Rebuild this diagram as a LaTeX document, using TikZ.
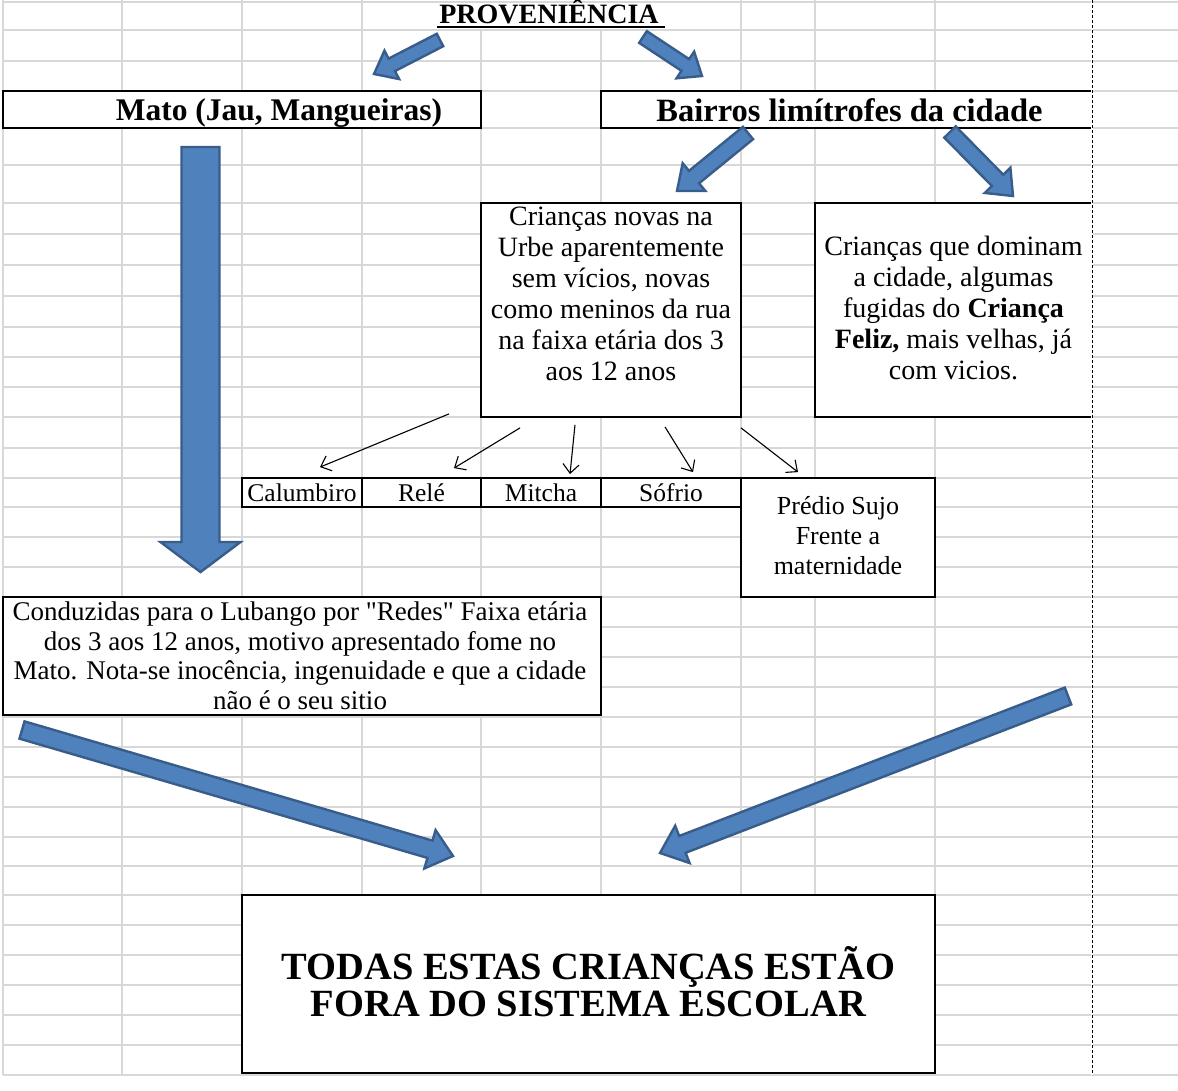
\documentclass[tikz,border=0pt]{standalone}
\usepackage{fontspec}
\setmainfont{Liberation Serif}[Ligatures=TeXOff]
\usetikzlibrary{arrows.meta,calc,positioning}

\definecolor{cellgray}{RGB}{216,216,216}
\definecolor{arrowfill}{RGB}{79,129,189}
\definecolor{arrowline}{RGB}{56,93,138}

\newcommand{\fsz}[2]{\fontsize{#1}{#2}\selectfont}
\newcommand{\firstln}{\rule{0pt}{1em}}
% block arrow: tail, tip, half shaft, half head, head length
\newcommand{\bluearrow}[5]{%
  \coordinate (ba-h) at ($(#2)!#5!(#1)$);
  \filldraw[fatarrow] ($(#1)!#3!90:(ba-h)$) -- ($(ba-h)!#3!-90:(#1)$)
    -- ($(ba-h)!#4!-90:(#1)$) -- (#2) -- ($(ba-h)!#4!90:(#1)$)
    -- ($(ba-h)!#3!90:(#1)$) -- ($(#1)!#3!-90:(ba-h)$) -- cycle;
}

\begin{document}
\begin{tikzpicture}[x=1pt,y=-1pt]
  \tikzstyle{every node}+=[inner sep=0pt]
  \tikzstyle{gridline}=[cellgray, line width=1.4pt]
  \tikzstyle{cellbox}=[draw, fill=white, line width=1.8pt]
  \tikzstyle{celltext}=[anchor=north, align=center]
  \tikzstyle{fatarrow}=[fill=arrowfill, draw=arrowline, line width=2.4pt]
  \tikzstyle{pointer}=[line width=1.1pt, -{Straight Barb[length=9pt,width=16pt]}]
  \tikzstyle{pagebreak}=[dash pattern=on 3pt off 2pt, line width=1pt]

  \useasboundingbox (0,0) rectangle (1178,1090);
  \fill[white] (0,0) rectangle (1178,1090);

  % sheet grid
  \foreach \y in {2,30,61,91,128,165,203,234,265,296,327,357,387,417,448,478,507,537,567,
                  597,627,657,687,717,747,777,807,837,866,895,925,955,985,1015,1045,1075}
    \draw[gridline] (3,\y) -- (1178,\y);
  \foreach \x in {3,122,242,362,741,815,935}
    \draw[gridline] (\x,0) -- (\x,1075);
  \foreach \x in {481,601}
    \draw[gridline] (\x,30) -- (\x,1075);

  % title
  \fill[white] (363,3) rectangle (740,28);
  \node[font=\bfseries\fsz{28}{30}, anchor=base] (title) at (549,23) {PROVENIÊNCIA};
  \draw[line width=2.6pt] ([xshift=-2pt,yshift=-4pt]title.base west) -- ([xshift=6pt,yshift=-4pt]title.base east);

  % boxes
  \node[cellbox, minimum width=478pt, minimum height=37pt] (mato) at (242,109.5) {};
  \node[font=\bfseries\fsz{31.5}{36}, anchor=base] (matolbl) at (279,120) {Mato (Jau, Mangueiras)};
  \node[cellbox, minimum width=491pt, minimum height=37pt] (bairros) at (846.5,109.5) {};
  \node[font=\bfseries\fsz{32.5}{36}, anchor=base] (bairroslbl) at (849.5,121) {Bairros limítrofes da cidade};

  \node[cellbox, minimum width=260pt, minimum height=214pt] (novas) at (611,310) {};
  \node[celltext, font=\fsz{28}{31}] (novaslbl) at (611,197) {\firstln Crianças novas na\\Urbe aparentemente\\sem vícios, novas\\como meninos da rua\\na faixa etária dos 3\\aos 12 anos};
  \node[cellbox, minimum width=277pt, minimum height=214pt] (dominam) at (953.5,310) {};
  \node[celltext, font=\fsz{28}{31}] (dominamlbl) at (953.5,227) {\firstln Crianças que dominam\\a cidade, algumas\\fugidas do \textbf{Criança}\\\textbf{Feliz,} mais velhas, já\\com vicios.};

  \node[cellbox, minimum width=120pt, minimum height=29pt, font=\fsz{25.5}{28}] (calumbiro) at (302,492.5) {Calumbiro};
  \node[cellbox, minimum width=119pt, minimum height=29pt, font=\fsz{25.5}{28}] (rele) at (421.5,492.5) {Relé};
  \node[cellbox, minimum width=120pt, minimum height=29pt, font=\fsz{25.5}{28}] (mitcha) at (541,492.5) {Mitcha};
  \node[cellbox, minimum width=140pt, minimum height=29pt, font=\fsz{25.5}{28}] (sofrio) at (671,492.5) {Sófrio};
  \node[cellbox, minimum width=194pt, minimum height=119pt] (predio) at (838,537.5) {};
  \node[celltext, font=\fsz{26}{30}] (prediolbl) at (838,488) {\firstln Prédio Sujo\\Frente a\\maternidade};

  \node[cellbox, minimum width=598pt, minimum height=118pt] (conduz) at (302,656) {};
  \node[celltext, font=\fsz{27}{29.5}] (conduzlbl) at (300,593.5) {\firstln Conduzidas para o Lubango por "Redes" Faixa etária\\dos 3 aos 12 anos, motivo apresentado fome no\\Mato. Nota-se inocência, ingenuidade e que a cidade\\não é o seu sitio};

  \node[cellbox, minimum width=693pt, minimum height=178pt] (todas) at (588.5,984) {};
  \node[celltext, font=\bfseries\fsz{38.5}{37}] (todaslbl) at (588.5,941) {\firstln TODAS ESTAS CRIANÇAS ESTÃO\\FORA DO SISTEMA ESCOLAR};

  % thin arrows to the places
  \draw[pointer] ([xshift=-162pt,yshift=4pt]novas.south) -- ([xshift=18pt,yshift=10pt]calumbiro.north);
  \draw[pointer] ([xshift=-91pt,yshift=-10pt]novas.south) -- ([xshift=32.5pt,yshift=9pt]rele.north);
  \draw[pointer] ([xshift=-36pt,yshift=-7pt]novas.south) -- ([xshift=29pt,yshift=3pt]mitcha.north);
  \draw[pointer] ([xshift=54pt,yshift=-9pt]novas.south) -- ([xshift=22pt,yshift=5pt]sofrio.north);
  \draw[pointer] ([xshift=130pt,yshift=-10pt]novas.south) -- ([xshift=-40pt,yshift=5pt]predio.north);

  % block arrows
  \coordinate (provL-tail) at (440,40);
  \coordinate (provL-tip) at (374,74);
  \bluearrow{provL-tail}{provL-tip}{7pt}{16pt}{20pt}
  \coordinate (provR-tail) at (643,37);
  \coordinate (provR-tip) at (702,76);
  \bluearrow{provR-tail}{provR-tip}{7pt}{16pt}{20pt}
  \coordinate (matoD-tail) at (200.5,147);
  \coordinate (matoD-tip) at (200.5,572);
  \bluearrow{matoD-tail}{matoD-tip}{19pt}{40pt}{30pt}
  \coordinate (bairrosL-tail) at (748,133);
  \coordinate (bairrosL-tip) at (677,191);
  \bluearrow{bairrosL-tail}{bairrosL-tip}{8pt}{18pt}{22pt}
  \coordinate (bairrosR-tail) at (950,132);
  \coordinate (bairrosR-tip) at (1013,196);
  \bluearrow{bairrosR-tail}{bairrosR-tip}{8pt}{18pt}{22pt}
  \coordinate (conduz-tail) at (22,730);
  \coordinate (conduz-tip) at (453,856);
  \bluearrow{conduz-tail}{conduz-tip}{9pt}{20pt}{24pt}
  \coordinate (dominam-tail) at (1068,696);
  \coordinate (dominam-tip) at (660,853);
  \bluearrow{dominam-tail}{dominam-tip}{9pt}{20pt}{24pt}

  % page break
  \draw[white, line width=2.4pt] (1092,0) -- (1092,1075);
  \draw[pagebreak] (1092,0) -- (1092,1075);
\end{tikzpicture}
\end{document}
